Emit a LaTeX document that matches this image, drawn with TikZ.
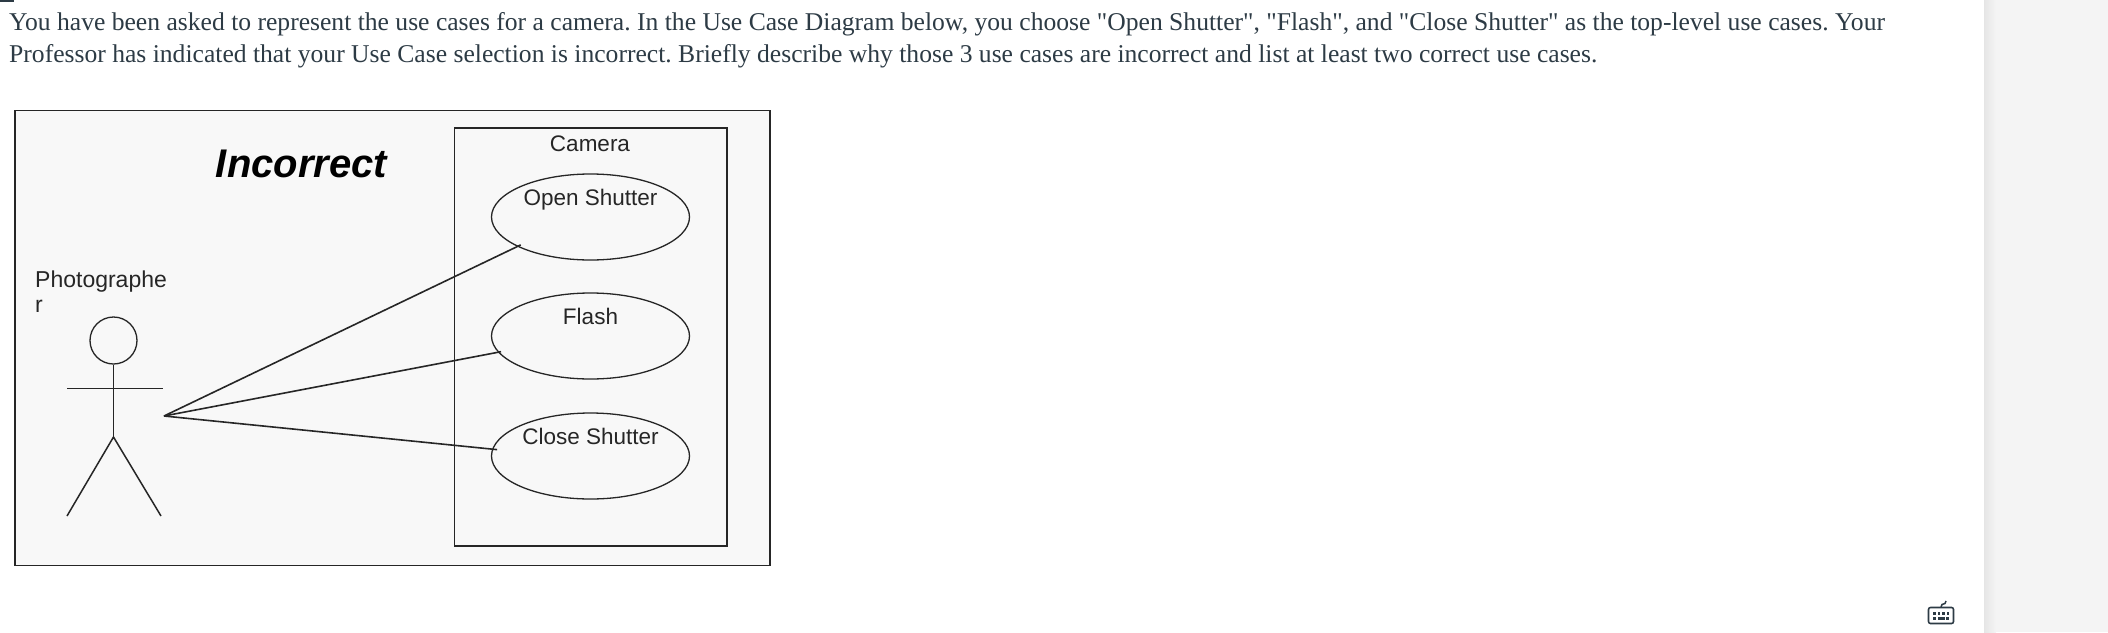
\documentclass[tikz,border=0pt]{standalone}
\usepackage{fontspec}
\setmainfont{Liberation Serif}[Ligatures=TeXOff]
\newfontfamily\arialish{Liberation Sans}
\usetikzlibrary{shapes.geometric}
\definecolor{canvasink}{HTML}{2D3B45}
\definecolor{ink}{HTML}{262626}
\definecolor{panel}{HTML}{F8F8F8}
\definecolor{band}{HTML}{F4F4F4}
\tikzset{
  x=1pt,y=-1pt,
  para/.style={anchor=base west,inner sep=0pt,text=canvasink,font=\frenchspacing\fontsize{25.6}{30}\selectfont},
  umltext/.style={inner sep=0pt,text=ink,font=\arialish\fontsize{22.5}{26}\selectfont},
  actortext/.style={umltext,anchor=west,font=\arialish\fontsize{23}{26}\selectfont},
  usecase/.style={ellipse,draw=ink,line width=1.3pt,minimum width=198pt,minimum height=86pt,inner sep=0pt},
  uml/.style={draw=ink,line width=1.5pt},
  link/.style={draw=ink,line width=1.6pt},
}
\begin{document}
\begin{tikzpicture}
\useasboundingbox (0,0) rectangle (2108,632);
\fill[white] (0,0) rectangle (2108,632);
% right band
\fill[band] (1984,0) rectangle (2108,632);
\shade[left color=black!10,right color=band] (1984,0) rectangle (1996,632);
\fill[canvasink] (0,0) rectangle (14,2);
% question
\node[para] (line1) at (9,30) {You have been asked to represent the use cases for a camera. In the Use Case Diagram below, you choose "Open Shutter", "Flash", and "Close Shutter" as the top-level use cases. Your};
\node[para] (line2) at (9,62.5) {Professor has indicated that your Use Case selection is incorrect. Briefly describe why those 3 use cases are incorrect and list at least two correct use cases.};
% panel
\draw[uml,fill=panel] (15,110.5) rectangle (770,565.5);
\draw[uml] (454.6,128) rectangle (727,546);
\node[inner sep=0pt,text=black,font=\arialish\bfseries\itshape\fontsize{40}{44}\selectfont] (title) at (301.5,163.5) {Incorrect};
\node[umltext] (camera) at (590,144) {Camera};
% use cases
\node[usecase] (open) at (590.5,217) {};
\node[usecase] (flash) at (590.5,336) {};
\node[usecase] (close) at (590.5,456) {};
\node[umltext] (opentxt) at (590.5,200) {Open Shutter};
\node[umltext] (flashtxt) at (590.5,316.7) {Flash};
\node[umltext] (closetxt) at (590.5,436.7) {Close Shutter};
% actor
\node[actortext] (actor1) at (35,282) {Photographe};
\node[actortext] (actor2) at (35,306) {r};
\node[circle,draw=ink,line width=1.3pt,minimum size=47pt,inner sep=0pt] (head) at (113.5,340.5) {};
\coordinate (hip) at (113.5,437);
\coordinate (armL) at (67,388.7);
\coordinate (armR) at (163,388.7);
\coordinate (footL) at (67,516);
\coordinate (footR) at (161,516);
\draw[uml] (head.south) -- (hip);
\draw[uml] (armL) -- (armR);
\draw[uml] (footL) -- (hip) -- (footR);
% connectors
\coordinate (hand) at (164,416);
\draw[link] (hand) -- ([shift={(3.5,-1.7)}]open.202.6);
\draw[link] (hand) -- ([shift={(3,-0.6)}]flash.190.7);
\draw[link] (hand) -- ([shift={(5,0.5)}]close.176.6);
% keyboard icon
\draw[canvasink,line width=1.6pt,rounded corners=2pt] (1928.5,607.5) rectangle (1953.5,623.5);
\draw[canvasink,line width=1.5pt] (1941,607) -- (1942,604.5) -- (1945,603.5) -- (1946,601);
\foreach \kx in {1933,1937.5,1942,1946.5}{\fill[canvasink] (\kx,612) rectangle +(2.6,2.6);}
\fill[canvasink] (1933,617) rectangle +(3,2.6);
\fill[canvasink] (1937.5,617) rectangle +(7,2.6);
\fill[canvasink] (1946,617) rectangle +(3,2.6);
\end{tikzpicture}
\end{document}
